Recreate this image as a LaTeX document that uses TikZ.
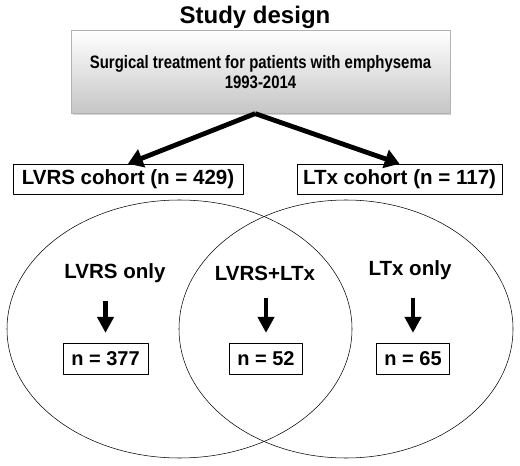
\documentclass[tikz,border=0pt]{standalone}
\usepackage{fontspec}
\setmainfont{Liberation Sans}
\usetikzlibrary{arrows.meta,shadows}
\begin{document}
\begin{tikzpicture}[x=0.75pt,y=-0.75pt, font=\bfseries, line join=round,
	cbox/.style={draw, thin, inner sep=0pt, minimum height=22.5pt, font=\fontsize{15.4}{18}\bfseries},
	nbox/.style={draw, thin, inner sep=0pt, minimum height=23pt, font=\fontsize{15}{18}\bfseries},
	grp/.style={font=\fontsize{15.4}{18}\bfseries},
	big/.style={line width=3.6pt, -{Triangle[length=11pt,width=14pt]}},
	down/.style={line width=3.6pt, -{Triangle[length=12pt,width=12pt]}, shorten <=10pt, shorten >=7.5pt}]
	\useasboundingbox (0,0) rectangle (520,466);
	\node (title) at (255,17) {\fontsize{18}{20}\selectfont Study design};
	\node (top) at (260.5,72) [draw=gray!60, inner sep=0pt, minimum width=284pt, minimum height=62pt,
		top color=white, bottom color=gray!45, drop shadow={shadow xshift=1.2pt, shadow yshift=-1.5pt, opacity=0.35},
		align=center, font=\fontsize{13.5}{14.5}\bfseries\addfontfeature{FakeStretch=0.83}] {Surgical treatment for patients with emphysema\\1993-2014};
	\node (lv) at (128,179) [cbox, minimum width=172.5pt] {LVRS cohort (n = 429)};
	\node (lt) at (399.5,179) [cbox, minimum width=154pt] {LTx cohort (n = 117)};
	\draw[big] ([xshift=-4pt]top.south) -- (lv.north);
	\draw[big] ([xshift=-4pt]top.south) -- (lt.north);
	% venn
	\draw[thin] (179.5,329) ellipse [x radius=172.5, y radius=129];
	\draw[thin] (346,329) ellipse [x radius=167, y radius=129];
	\node (g1) at (115,273) [grp] {LVRS only};
	\node (g2) at (265,273) [grp] {LVRS+LTx};
	\node (g3) at (410,270) [grp] {LTx only};
	\node (n1) at (105.5,358.5) [nbox, minimum width=64pt] {n = 377};
	\node (n2) at (266,358.5) [nbox, minimum width=54.5pt] {n = 52};
	\node (n3) at (413,358.5) [nbox, minimum width=54.5pt] {n = 65};
	\foreach \g/\n in {g1/n1,g2/n2,g3/n3}
	\draw[down] (\g.south -| \n.north) -- (\n.north);
\end{tikzpicture}
\end{document}
